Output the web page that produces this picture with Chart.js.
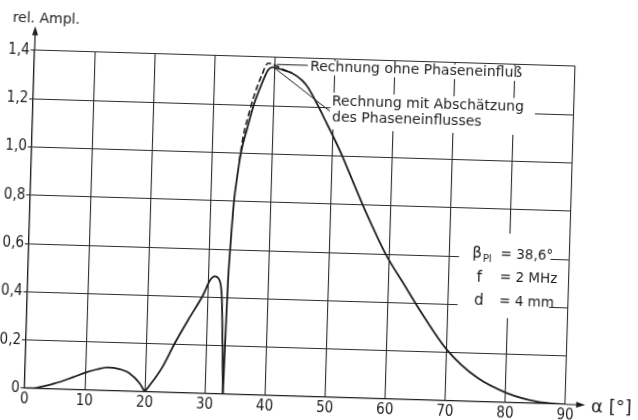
<!DOCTYPE html>
<html><head><meta charset="utf-8">
<script src="https://cdn.jsdelivr.net/npm/chart.js@4.4.0/dist/chart.umd.min.js"></script>
<style>
html,body{margin:0;padding:0;background:#fff;overflow:hidden;width:638px;height:420px}
#wrap{width:638px;height:420px;transform:rotate(1.7deg);transform-origin:319px 210px}
canvas{display:block}
</style></head><body>
<div id="wrap"><canvas id="c" width="638" height="420"></canvas></div>
<script>
// ---- data ----
const xTicks = [0, 10, 20, 30, 40, 50, 60, 70, 80, 90];
const yTicks = [0, 0.2, 0.4, 0.6, 0.8, 1.0, 1.2, 1.4];
const yTickLabels = ['0', '0,2', '0,4', '0,6', '0,8', '1,0', '1,2', '1,4'];

// "Rechnung mit Abschätzung des Phaseneinflusses" (solid)
const solidX = [0, 2, 5, 8, 10.2, 12, 13.7, 15.6, 17.4, 19.1, 20,
  22.7, 24.75, 27.1, 29.2, 30.3, 31.1, 31.9, 32.35, 32.7, 33.0,
  33.15, 33.3, 33.5, 33.9, 34.3, 34.8, 35.7, 36.7, 37.5, 38.4, 39.0, 39.7,
  41.4, 42.9, 44.6, 45.6, 46.9, 48.6, 50.2, 51.8, 53.6, 55.4, 57.5, 59.5, 62.5, 65.4,
  70.1, 75.2, 80.2, 85.3, 90];
const solidY = [0, 0.004, 0.024, 0.052, 0.074, 0.088, 0.097, 0.092, 0.075, 0.035, 0,
  0.1, 0.205, 0.314, 0.407, 0.47, 0.487, 0.47, 0.40, 0.2, 0,
  0.25, 0.47, 0.6, 0.8, 0.9, 1.0, 1.1, 1.2, 1.26, 1.32, 1.35, 1.36,
  1.35, 1.338, 1.31, 1.282, 1.229, 1.15, 1.075, 0.995, 0.895, 0.797, 0.69, 0.595, 0.48, 0.37,
  0.21, 0.10, 0.04, 0.008, 0];

// "Rechnung ohne Phaseneinfluß" (dashed)
const dashedX = [34.6, 35.1, 35.8, 36.85, 37.9, 38.9, 40.0, 41.4, 42.9];
const dashedY = [0.97, 1.067, 1.15, 1.25, 1.326, 1.376, 1.37, 1.352, 1.338];

const labelOhne = 'Rechnung ohne Phaseneinfluß';
const labelMit = ['Rechnung mit Abschätzung', 'des Phaseneinflusses'];
const paramRows = [['β', 'Pl', '= 38,6°'], ['f', '', '= 2 MHz'], ['d', '', '= 4 mm']];
const yTitle = 'rel. Ampl.';
const xTitle = 'α [°]';

// ---- build datasets (split the solid curve at its sharp zeros) ----
const ink = '#1e1e1e';
function toPts(xs, ys) { return xs.map((v, i) => ({ x: v, y: ys[i] })); }
const solidPts = toPts(solidX, solidY);
const segs = [];
let cur = [];
solidPts.forEach((p, i) => {
  cur.push(p);
  if (p.y === 0 && i > 0 && i < solidPts.length - 1) { segs.push(cur); cur = [p]; }
});
segs.push(cur);

const datasets = segs.map(s => ({
  data: s, borderColor: ink, borderWidth: 1.8, pointRadius: 0, fill: false,
  cubicInterpolationMode: 'monotone'
}));
datasets.push({
  data: toPts(dashedX, dashedY), borderColor: ink, borderWidth: 1.6, pointRadius: 0,
  fill: false, borderDash: [6, 3], cubicInterpolationMode: 'monotone'
});

const tickFont = { family: '"DejaVu Sans Condensed","Liberation Sans Narrow","DejaVu Sans",sans-serif', size: 15 };

const annot = {
  id: 'annot',
  beforeDatasetsDraw(chart) {
    const { ctx, scales: { x, y } } = chart;
    ctx.save();
    ctx.fillStyle = '#fff';
    // blank areas behind the lettering
    [[45.6, 82.1, 1.333, 1.393], [49.5, 83.5, 1.11, 1.262], [71.6, 86.8, 0.35, 0.70]].forEach(([x0, x1, y0, y1]) => {
      const l = x.getPixelForValue(x0), r = x.getPixelForValue(x1);
      const t = y.getPixelForValue(y1), b = y.getPixelForValue(y0);
      ctx.fillRect(l, t, r - l, b - t);
    });
    ctx.restore();
  },
  afterDatasetsDraw(chart) {
    const { ctx, scales: { x, y } } = chart;
    const X = v => x.getPixelForValue(v), Y = v => y.getPixelForValue(v);
    ctx.save();
    ctx.fillStyle = ink; ctx.strokeStyle = ink;
    ctx.textBaseline = 'middle'; ctx.textAlign = 'left';
    ctx.font = '14px "DejaVu Sans", sans-serif';
    ctx.fillText(labelOhne, X(45.9), Y(1.365));
    ctx.fillText(labelMit[0], X(49.7), Y(1.224));
    ctx.fillText(labelMit[1], X(49.8), Y(1.157));
    // leader lines
    ctx.lineWidth = 1;
    ctx.beginPath();
    ctx.moveTo(X(40.4), Y(1.372)); ctx.lineTo(X(45.5), Y(1.372));
    ctx.moveTo(X(40.1), Y(1.355)); ctx.lineTo(X(49.4), Y(1.185));
    ctx.stroke();
    // parameters
    const rowY = [0.613, 0.514, 0.418], symX = [73.8, 74.6, 74.3];
    paramRows.forEach((r, i) => {
      ctx.font = '15px "DejaVu Sans", sans-serif';
      ctx.fillText(r[0], X(symX[i]), Y(rowY[i]));
      if (r[1]) {
        const w = ctx.measureText(r[0]).width;
        ctx.font = '10px "DejaVu Sans", sans-serif';
        ctx.fillText(r[1], X(symX[i]) + w + 1, Y(rowY[i]) + 5);
      }
      ctx.font = '13.5px "DejaVu Sans", sans-serif';
      ctx.fillText(r[2], X(78.5), Y(rowY[i]));
    });
    // axis titles
    ctx.font = '14px "DejaVu Sans", sans-serif';
    ctx.fillText(yTitle, X(-3.8), Y(1.53));
    ctx.font = '18px "DejaVu Sans", sans-serif';
    ctx.fillText(xTitle, X(94.3), Y(-0.01));
    // axis arrows
    ctx.lineWidth = 1.2;
    ctx.beginPath();
    ctx.moveTo(X(90), Y(0)); ctx.lineTo(X(93.3) - 6, Y(0));
    ctx.moveTo(X(0), Y(1.4)); ctx.lineTo(X(0), Y(1.5) + 6);
    ctx.stroke();
    ctx.beginPath();
    ctx.moveTo(X(93.3), Y(0)); ctx.lineTo(X(93.3) - 9, Y(0) - 3); ctx.lineTo(X(93.3) - 9, Y(0) + 3); ctx.closePath();
    ctx.moveTo(X(0), Y(1.5)); ctx.lineTo(X(0) - 3, Y(1.5) + 9); ctx.lineTo(X(0) + 3, Y(1.5) + 9); ctx.closePath();
    ctx.fill();
    ctx.restore();
  }
};

new Chart(document.getElementById('c'), {
  type: 'line',
  data: { datasets },
  options: {
    responsive: false, animation: false, devicePixelRatio: 1,
    layout: { padding: { left: 0, right: 67, top: 59, bottom: 0 } },
    plugins: { legend: { display: false }, tooltip: { enabled: false } },
    scales: {
      x: {
        type: 'linear', min: 0, max: 90,
        afterFit: s => { s.height = 23; },
        afterBuildTicks: s => { s.ticks = xTicks.map(v => ({ value: v })); },
        ticks: { color: ink, font: tickFont, padding: 2, maxRotation: 0, callback: v => String(v) },
        grid: { color: '#2e2e2e', lineWidth: 1.1, tickLength: 0, drawTicks: false },
        border: { color: ink, width: 1.3 }
      },
      y: {
        type: 'linear', min: 0, max: 1.4,
        afterFit: s => { s.width = 30; },
        afterBuildTicks: s => { s.ticks = yTicks.map(v => ({ value: v })); },
        ticks: { color: ink, font: tickFont, padding: 1, callback: (v, i) => yTickLabels[i] },
        grid: { color: '#2e2e2e', lineWidth: 1.1, tickLength: 4 },
        border: { color: ink, width: 1.3 }
      }
    }
  },
  plugins: [annot]
});
</script>
</body></html>
